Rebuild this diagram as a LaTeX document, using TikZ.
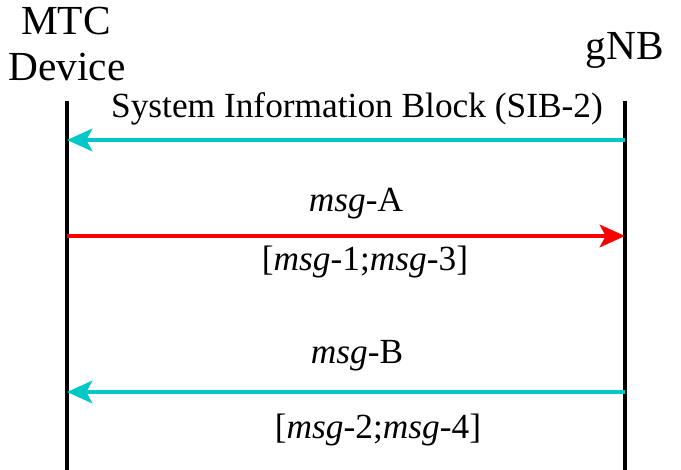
\documentclass[tikz,border=0pt]{standalone}
\usepackage{fontspec}
\setmainfont{Liberation Serif}[ItalicFont=Liberation Serif Italic,BoldFont=Liberation Serif Bold]
\usetikzlibrary{arrows.meta,positioning}
\definecolor{sibcyan}{RGB}{0,200,200}
\definecolor{msgred}{RGB}{250,0,0}
\tikzset{
  >={Stealth[length=19pt,width=17pt,inset=4.5pt]},
  lifeline/.style={line width=3pt,draw=black},
  msg/.style={->,line width=2.5pt,draw=#1},
  msg/.default=sibcyan,
  party/.style={font=\fontsize{31}{36}\selectfont,align=center,anchor=base,inner sep=0pt},
  tag/.style={font=\fontsize{26.5}{30}\selectfont,anchor=base,inner sep=0pt},
}
\newcommand{\msgname}[1]{\textit{msg}-#1}
\begin{document}
\begin{tikzpicture}[x=0.75pt,y=-0.75pt]
  \useasboundingbox (0,0) rectangle (681,470);
  % parties
  \node[party] (mtc) at (66,35) {MTC};
  \node[party] (dev) at (67,81) {Device};
  \node[party] (gnb) at (625,60) {gNB};
  % lifelines
  \coordinate (devtop) at (67,101);
  \coordinate (devbot) at (67,470);
  \coordinate (gnbtop) at (625,101);
  \coordinate (gnbbot) at (625,470);
  \draw[lifeline] (devtop) -- (devbot);
  \draw[lifeline] (gnbtop) -- (gnbbot);
  % messages
  \coordinate (sibR) at (625,140);
  \coordinate (sibL) at (67,140);
  \coordinate (maL) at (67,236);
  \coordinate (maR) at (625,236);
  \coordinate (mbR) at (625,392);
  \coordinate (mbL) at (67,392);
  \draw[msg] (sibR) -- (sibL);
  \draw[msg=msgred] (maL) -- (maR);
  \draw[msg] (mbR) -- (mbL);
  % labels
  \node[tag] (sib) at (357,118) {System Information Block (SIB-2)};
  \node[tag] (ma) at (356,212) {\msgname{A}};
  \node[tag] (ma13) at (365,270) {[\msgname{1};\msgname{3}]};
  \node[tag] (mb) at (357,363) {\msgname{B}};
  \node[tag] (mb24) at (378,438) {[\msgname{2};\msgname{4}]};
\end{tikzpicture}
\end{document}
